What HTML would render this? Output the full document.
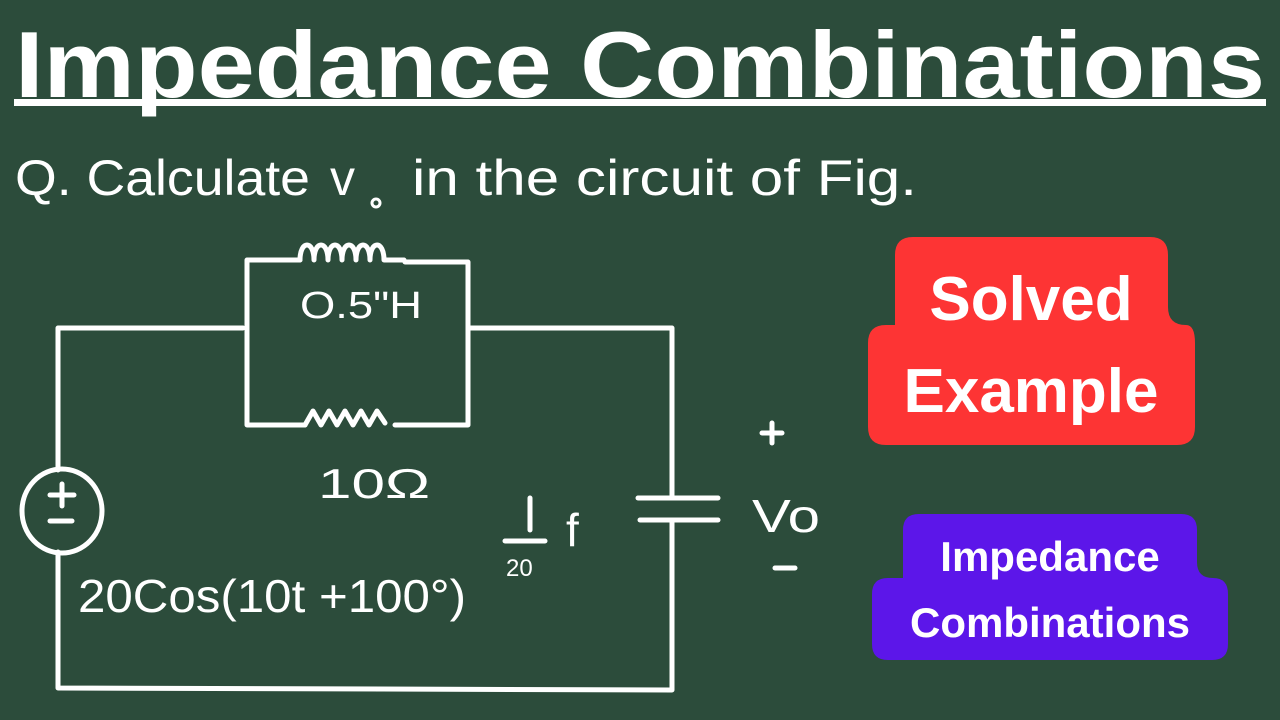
<!DOCTYPE html>
<html><head><meta charset="utf-8"><style>
html,body{margin:0;padding:0;background:#2c4c3b;}
svg{display:block}
</style></head><body>
<svg width="1280" height="720" viewBox="0 0 1280 720" xmlns="http://www.w3.org/2000/svg">
<rect width="1280" height="720" fill="#2c4c3b"/>
<text x="15" y="97" font-family="Liberation Sans, sans-serif" font-weight="bold" font-size="94" fill="#fff" textLength="1250" lengthAdjust="spacingAndGlyphs">Impedance Combinations</text>
<rect x="14" y="99" width="1252" height="7" fill="#fff"/>
<text x="15" y="195" font-family="Liberation Sans, sans-serif" font-size="50" fill="#fff" textLength="295" lengthAdjust="spacingAndGlyphs">Q. Calculate</text>
<text x="330" y="195" font-family="Liberation Sans, sans-serif" font-size="50" fill="#fff">v</text>
<text x="412" y="195" font-family="Liberation Sans, sans-serif" font-size="50" fill="#fff" textLength="505" lengthAdjust="spacingAndGlyphs">in the circuit of Fig.</text>
<circle cx="376" cy="203" r="4" fill="none" stroke="#fff" stroke-width="3"/>
<g fill="none" stroke="#fff" stroke-width="5" stroke-linecap="round" stroke-linejoin="round">
<polyline points="243,328 58,328 58,470"/>
<polyline points="58,552 58,688 672,690 672,522"/>
<line x1="640" y1="520" x2="718" y2="520"/>
<line x1="638" y1="498" x2="718" y2="498"/>
<polyline points="672,498 672,328 468,328"/>
<polyline points="300,260 247,260 247,425 305,425"/>
<polyline points="405,262 468,262 468,425 395,425"/>
<path d="M300,260 c0,-20 14,-20 14,0 c0,-20 14,-20 14,0 c0,-20 14,-20 14,0 c0,-20 14,-20 14,0 c0,-20 14,-20 14,0 c0,-20 14,-20 14,0 l20,0"/>
<path d="M305,425 l8,-14 l8,14 l8,-14 l8,14 l8,-14 l8,14 l8,-14 l8,14 l8,-14 l8,12"/>
<ellipse cx="62" cy="511" rx="40" ry="42"/>
<line x1="50" y1="495" x2="74" y2="495"/><line x1="62" y1="484" x2="62" y2="506"/>
<line x1="50" y1="521" x2="72" y2="521"/>
<line x1="505" y1="541" x2="545" y2="541"/><line x1="530" y1="498" x2="530" y2="530"/>
<line x1="762" y1="433" x2="782" y2="433"/><line x1="772" y1="423" x2="772" y2="443"/>
<line x1="775" y1="568" x2="795" y2="568"/>
</g>
<g font-family="Liberation Sans, sans-serif" fill="#fff">
<text x="300" y="318" font-size="38" textLength="122" lengthAdjust="spacingAndGlyphs">O.5"H</text>
<text x="318" y="498" font-size="42" textLength="112" lengthAdjust="spacingAndGlyphs">10Ω</text>
<text x="78" y="612" font-size="46" textLength="388" lengthAdjust="spacingAndGlyphs">20Cos(10t +100°)</text>
<text x="506" y="576" font-size="24">20</text>
<text x="566" y="546" font-size="46">f</text>
<text x="752" y="532" font-size="46" textLength="68" lengthAdjust="spacingAndGlyphs">Vo</text>
</g>
<path d="M895,255 q0,-18 18,-18 h237 q18,0 18,18 v52 q0,18 18,18 h0 q9,0 9,18 v84 q0,18 -18,18 h-291 q-18,0 -18,-18 v-84 q0,-18 18,-18 h9 v-52 z" fill="#fd3434"/>
<path d="M903,530 q0,-16 16,-16 h262 q16,0 16,16 v32 q0,16 16,16 q15,0 15,16 v50 q0,16 -16,16 h-324 q-16,0 -16,-16 v-50 q0,-16 16,-16 h15 z" fill="#5c16e9"/>
<g font-family="Liberation Sans, sans-serif" font-weight="bold" fill="#fff" text-anchor="middle">
<text x="1031" y="320" font-size="62">Solved</text>
<text x="1031" y="412" font-size="62">Example</text>
<text x="1050" y="571" font-size="42">Impedance</text>
<text x="1050" y="637" font-size="42">Combinations</text>
</g>
</svg>
</body></html>
